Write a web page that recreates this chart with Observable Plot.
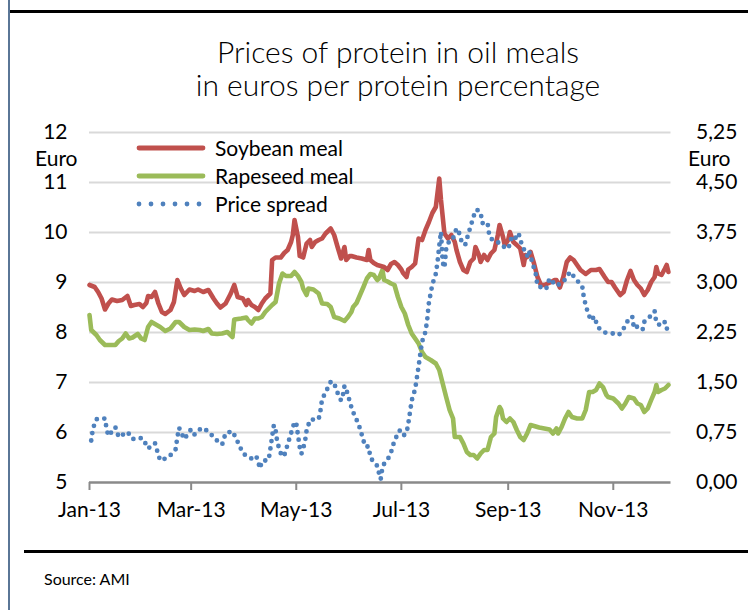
<!DOCTYPE html>
<html><head><meta charset="utf-8">
<script src="https://cdn.jsdelivr.net/npm/d3@7"></script>
<script src="https://cdn.jsdelivr.net/npm/@observablehq/plot@0.6"></script>
<style>
body{margin:0;background:#fff;}
#wrap{position:relative;width:748px;height:610px;overflow:hidden;font-family:Lato,"Open Sans",sans-serif;color:#000;background:#fff;}
#leftbar{position:absolute;left:8px;top:0;width:2px;height:610px;background:#5a7696;}
#topline{position:absolute;left:10px;top:10px;width:738px;height:3px;background:#000;}
#botline{position:absolute;left:24px;top:550px;width:724px;height:3px;background:#000;}
.title{position:absolute;left:10px;width:776px;text-align:center;font-size:30px;font-weight:300;line-height:1;white-space:nowrap;}
#source{position:absolute;left:44px;top:571px;font-size:16px;line-height:1;}
.unit{position:absolute;font-size:21px;line-height:1;}
#chart{position:absolute;left:0;top:0;}
#legend{position:absolute;left:0;top:0;pointer-events:none;}
</style></head><body>
<div id="wrap">
  <div id="leftbar"></div>
  <div id="topline"></div>
  <div class="title" style="top:36px">Prices of protein in oil meals</div>
  <div class="title" style="top:69px">in euros per protein percentage</div>
  <div id="chart"></div>
  <svg id="legend" width="748" height="610"></svg>
  <div class="unit" style="left:35px;top:147px">Euro</div>
  <div class="unit" style="left:688px;top:147px">Euro</div>
  <div id="botline"></div>
  <div id="source">Source: AMI</div>
</div>
<script>
// ---- data ----
const seriesNames = ["Soybean meal", "Rapeseed meal", "Price spread"];
const seriesColors = ["#C0504D", "#9BBB59", "#4F81BD"];

const soyDates = ["2013-01-01","2013-01-04","2013-01-06","2013-01-08","2013-01-10","2013-01-12","2013-01-14","2013-01-17","2013-01-20","2013-01-23","2013-01-25","2013-01-27","2013-01-30",
"2013-02-01","2013-02-03","2013-02-04","2013-02-06","2013-02-08","2013-02-10","2013-02-12","2013-02-14","2013-02-17","2013-02-19","2013-02-21","2013-02-23","2013-02-25","2013-02-28",
"2013-03-03","2013-03-05","2013-03-08","2013-03-11","2013-03-14","2013-03-16","2013-03-18","2013-03-21","2013-03-24","2013-03-26","2013-03-28","2013-03-31",
"2013-04-02","2013-04-03","2013-04-05","2013-04-07","2013-04-09","2013-04-11","2013-04-13","2013-04-16","2013-04-17","2013-04-19","2013-04-22","2013-04-24","2013-04-26","2013-04-28","2013-04-29","2013-04-30",
"2013-05-02","2013-05-03","2013-05-05","2013-05-07","2013-05-09","2013-05-10","2013-05-12","2013-05-14","2013-05-16","2013-05-18","2013-05-21","2013-05-23","2013-05-25","2013-05-27","2013-05-29","2013-05-30",
"2013-06-01","2013-06-02","2013-06-05","2013-06-08","2013-06-11","2013-06-12","2013-06-13","2013-06-15","2013-06-17","2013-06-19","2013-06-21","2013-06-23","2013-06-25","2013-06-27","2013-06-29",
"2013-07-01","2013-07-02","2013-07-04","2013-07-05","2013-07-07","2013-07-09","2013-07-11","2013-07-13","2013-07-15","2013-07-17","2013-07-19","2013-07-21","2013-07-23","2013-07-24","2013-07-26","2013-07-28","2013-07-30",
"2013-08-01","2013-08-02","2013-08-04","2013-08-06","2013-08-08","2013-08-10","2013-08-12","2013-08-13","2013-08-15","2013-08-16","2013-08-18","2013-08-20","2013-08-22","2013-08-24","2013-08-26","2013-08-27","2013-08-29","2013-08-30",
"2013-09-01","2013-09-02","2013-09-04","2013-09-06","2013-09-08","2013-09-10","2013-09-11","2013-09-12","2013-09-14","2013-09-16","2013-09-18","2013-09-20","2013-09-22","2013-09-24","2013-09-26","2013-09-28","2013-09-29",
"2013-10-01","2013-10-03","2013-10-05","2013-10-07","2013-10-09","2013-10-11","2013-10-13","2013-10-16","2013-10-19","2013-10-22","2013-10-24","2013-10-27","2013-10-29","2013-10-31",
"2013-11-02","2013-11-05","2013-11-07","2013-11-09","2013-11-11","2013-11-13","2013-11-15","2013-11-17","2013-11-19","2013-11-21","2013-11-23","2013-11-25","2013-11-26","2013-11-27","2013-11-29",
"2013-12-01","2013-12-02","2013-12-03"];
const soyValues = [8.95,8.91,8.81,8.68,8.46,8.58,8.66,8.63,8.65,8.73,8.53,8.55,8.57,
8.51,8.59,8.73,8.71,8.81,8.58,8.41,8.37,8.45,8.61,9.05,8.88,8.75,8.86,
8.83,8.86,8.81,8.85,8.68,8.58,8.50,8.58,8.78,8.95,8.71,8.68,
8.55,8.65,8.55,8.51,8.45,8.58,8.68,8.78,9.45,9.50,9.50,9.59,9.65,9.81,9.95,10.25,
9.91,9.53,9.50,9.78,9.85,9.71,9.81,9.85,9.88,9.98,10.08,9.95,9.71,9.48,9.71,9.45,
9.53,9.53,9.50,9.48,9.45,9.65,9.45,9.39,9.35,9.33,9.31,9.25,9.37,9.41,9.35,
9.26,9.19,9.11,9.26,9.31,9.38,9.88,9.85,10.05,10.21,10.39,10.51,11.08,10.65,9.98,9.88,9.95,
9.81,9.65,9.41,9.25,9.21,9.41,9.48,9.71,9.55,9.41,9.55,9.45,9.58,9.65,9.95,10.15,9.91,9.75,
9.85,10.01,9.81,9.75,9.68,9.35,9.55,9.51,9.61,9.38,9.11,8.95,8.95,8.98,9.01,9.05,9.05,
8.90,9.11,9.41,9.50,9.45,9.35,9.25,9.17,9.25,9.25,9.27,9.11,9.01,9.01,
8.90,8.75,8.81,9.05,9.23,9.05,8.95,8.88,8.75,8.85,9.01,9.11,9.31,9.18,9.15,
9.28,9.35,9.21];

const rapeDates = ["2013-01-01","2013-01-02","2013-01-05","2013-01-07","2013-01-10","2013-01-13","2013-01-16","2013-01-18","2013-01-20","2013-01-22","2013-01-24","2013-01-26","2013-01-29","2013-01-31",
"2013-02-02","2013-02-04","2013-02-06","2013-02-08","2013-02-11","2013-02-14","2013-02-17","2013-02-20","2013-02-22","2013-02-25","2013-02-28",
"2013-03-03","2013-03-06","2013-03-08","2013-03-11","2013-03-13","2013-03-16","2013-03-19","2013-03-22","2013-03-25","2013-03-26","2013-03-30",
"2013-04-02","2013-04-03","2013-04-05","2013-04-07","2013-04-09","2013-04-11","2013-04-13","2013-04-15","2013-04-17","2013-04-19","2013-04-21","2013-04-23","2013-04-25","2013-04-28","2013-04-30",
"2013-05-02","2013-05-04","2013-05-05","2013-05-07","2013-05-08","2013-05-11","2013-05-14","2013-05-16","2013-05-19","2013-05-21","2013-05-23","2013-05-26","2013-05-29","2013-05-31",
"2013-06-02","2013-06-03","2013-06-05","2013-06-07","2013-06-09","2013-06-11","2013-06-13","2013-06-15","2013-06-17","2013-06-18","2013-06-20","2013-06-21","2013-06-23","2013-06-25","2013-06-27","2013-06-29",
"2013-07-01","2013-07-03","2013-07-05","2013-07-07","2013-07-09","2013-07-11","2013-07-13","2013-07-15","2013-07-18","2013-07-21","2013-07-23","2013-07-25","2013-07-27","2013-07-29","2013-07-31",
"2013-08-01","2013-08-04","2013-08-06","2013-08-08","2013-08-10","2013-08-12","2013-08-14","2013-08-16","2013-08-18","2013-08-20","2013-08-22","2013-08-24","2013-08-25","2013-08-27","2013-08-28","2013-08-29","2013-08-31",
"2013-09-02","2013-09-04","2013-09-06","2013-09-08","2013-09-10","2013-09-12","2013-09-14","2013-09-16","2013-09-19","2013-09-22","2013-09-25","2013-09-27","2013-09-29","2013-09-30",
"2013-10-02","2013-10-04","2013-10-06","2013-10-08","2013-10-11","2013-10-14","2013-10-16","2013-10-18","2013-10-20","2013-10-22","2013-10-24","2013-10-26","2013-10-28","2013-10-29",
"2013-11-01","2013-11-04","2013-11-06","2013-11-08","2013-11-10","2013-11-13","2013-11-15","2013-11-17","2013-11-19","2013-11-21","2013-11-23","2013-11-25","2013-11-26","2013-11-27","2013-11-29",
"2013-12-01","2013-12-03"];
const rapeValues = [8.35,8.05,7.95,7.85,7.75,7.75,7.75,7.83,7.88,7.98,7.88,7.90,7.97,7.88,
7.85,8.11,8.21,8.17,8.11,8.03,8.08,8.21,8.21,8.11,8.05,
8.06,8.05,8.03,8.07,7.98,7.97,7.98,8.01,7.91,8.26,8.28,
8.30,8.25,8.18,8.28,8.28,8.31,8.41,8.48,8.55,8.61,8.98,9.18,9.13,9.13,9.21,
9.13,9.01,8.88,8.75,8.88,8.86,8.78,8.58,8.57,8.51,8.31,8.28,8.23,8.31,
8.41,8.51,8.59,8.75,8.91,9.08,9.17,9.15,9.05,9.08,9.25,9.05,9.02,8.98,8.95,8.71,
8.51,8.38,8.15,7.98,7.88,7.78,7.61,7.51,7.45,7.38,7.25,6.98,6.71,6.45,6.28,
5.91,5.91,5.78,5.61,5.55,5.55,5.48,5.58,5.65,5.65,5.91,5.98,6.31,6.51,6.45,6.28,6.21,
6.28,6.21,6.05,5.91,5.85,5.98,6.15,6.13,6.10,6.08,6.06,5.98,6.08,5.98,
6.11,6.28,6.41,6.31,6.28,6.28,6.45,6.81,6.81,6.85,6.98,6.91,6.75,6.71,
6.68,6.58,6.48,6.58,6.71,6.68,6.58,6.55,6.41,6.48,6.65,6.81,6.95,6.81,6.85,
6.88,6.95];

const spreadDates = ["2013-01-02","2013-01-03","2013-01-05","2013-01-10","2013-01-11","2013-01-12","2013-01-16","2013-01-18","2013-01-23","2013-01-26","2013-01-29",
"2013-02-01","2013-02-04","2013-02-08","2013-02-09","2013-02-11","2013-02-16","2013-02-20","2013-02-21","2013-02-22","2013-02-25",
"2013-03-01","2013-03-03","2013-03-07","2013-03-11","2013-03-15","2013-03-19","2013-03-21","2013-03-25","2013-03-28","2013-03-31",
"2013-04-03","2013-04-07","2013-04-08","2013-04-10","2013-04-11","2013-04-15","2013-04-16","2013-04-17","2013-04-18","2013-04-19","2013-04-20","2013-04-22","2013-04-23","2013-04-24","2013-04-26","2013-04-28","2013-04-30",
"2013-05-01","2013-05-02","2013-05-03","2013-05-04","2013-05-06","2013-05-07","2013-05-09","2013-05-14","2013-05-15","2013-05-16","2013-05-18","2013-05-21","2013-05-23","2013-05-24","2013-05-27","2013-05-28","2013-05-29","2013-05-30",
"2013-06-02","2013-06-04","2013-06-06","2013-06-08","2013-06-10","2013-06-12","2013-06-13","2013-06-15","2013-06-17","2013-06-18","2013-06-19","2013-06-20","2013-06-21","2013-06-23","2013-06-25","2013-06-27","2013-06-30",
"2013-07-02","2013-07-04","2013-07-05","2013-07-06","2013-07-07","2013-07-09","2013-07-10","2013-07-11","2013-07-12","2013-07-13","2013-07-15","2013-07-16","2013-07-17","2013-07-19","2013-07-21","2013-07-22","2013-07-23","2013-07-24","2013-07-25","2013-07-26","2013-07-27","2013-07-29","2013-07-31",
"2013-08-02","2013-08-03","2013-08-05","2013-08-07","2013-08-09","2013-08-11","2013-08-13","2013-08-14","2013-08-16","2013-08-17","2013-08-20","2013-08-21","2013-08-22","2013-08-25","2013-08-27","2013-08-31",
"2013-09-02","2013-09-03","2013-09-05","2013-09-07","2013-09-09","2013-09-12","2013-09-13","2013-09-15","2013-09-17","2013-09-18","2013-09-23","2013-09-25","2013-09-29",
"2013-10-03","2013-10-07","2013-10-10","2013-10-14","2013-10-15","2013-10-17","2013-10-19","2013-10-21","2013-10-23","2013-10-27","2013-10-31",
"2013-11-04","2013-11-06","2013-11-09","2013-11-12","2013-11-13","2013-11-15","2013-11-18","2013-11-19","2013-11-21","2013-11-25","2013-11-26","2013-11-29",
"2013-12-01","2013-12-03"];
const spreadValues = [0.63,0.81,0.95,0.96,0.79,0.70,0.83,0.68,0.76,0.65,0.67,
0.66,0.51,0.59,0.50,0.33,0.38,0.50,0.68,0.82,0.65,
0.80,0.72,0.82,0.77,0.65,0.57,0.74,0.77,0.61,0.44,
0.38,0.34,0.38,0.21,0.32,0.34,0.51,0.69,0.86,0.79,0.60,0.44,0.45,0.40,0.57,0.74,0.91,
0.89,0.71,0.53,0.43,0.60,0.78,0.94,0.95,1.07,1.25,1.35,1.51,1.50,1.40,1.23,1.30,1.45,1.40,
1.13,0.99,0.89,0.72,0.54,0.54,0.38,0.30,0.25,0.14,0.05,0.22,0.28,0.34,0.45,0.63,0.78,
0.70,0.74,0.88,1.05,1.23,1.40,1.57,1.74,1.93,2.11,2.26,2.44,2.70,2.97,3.13,3.31,3.55,3.76,3.30,3.22,3.50,3.64,3.66,
3.81,3.79,3.61,3.56,3.74,3.91,4.08,4.09,4.05,3.89,3.90,3.71,3.66,3.60,3.60,3.50,
3.56,3.69,3.66,3.74,3.56,3.40,3.48,3.30,3.13,2.95,2.90,3.06,2.95,
3.01,3.16,3.06,2.94,2.76,2.57,2.43,2.49,2.33,2.25,2.24,
2.21,2.26,2.41,2.49,2.31,2.34,2.29,2.41,2.45,2.57,2.39,2.35,
2.41,2.23];

// axes
const leftTicks = [5, 6, 7, 8, 9, 10, 11, 12];
const rightTickLabels = ["0,00", "0,75", "1,50", "2,25", "3,00", "3,75", "4,50", "5,25"];
const monthTicks = ["2013-01-01", "2013-03-01", "2013-05-01", "2013-07-01", "2013-09-01", "2013-11-01"];
const monthLabels = ["Jan-13", "Mar-13", "May-13", "Jul-13", "Sep-13", "Nov-13"];
const xStart = "2013-01-01", xEnd = "2013-12-04T12:00:00Z";

// ---- build ----
const parse = s => new Date(s.length === 10 ? s + "T00:00:00Z" : s);
const soy = soyDates.map((d, i) => ({date: parse(d), v: soyValues[i]}));
const rape = rapeDates.map((d, i) => ({date: parse(d), v: rapeValues[i]}));
// right axis: 0..5.25 maps onto left 5..12
const spread = spreadDates.map((d, i) => ({date: parse(d), v: 5 + spreadValues[i] / 0.75}));
const mTicks = monthTicks.map(parse);
const labelFor = d => monthLabels[mTicks.findIndex(t => +t === +d)];

const chart = Plot.plot({
  width: 748, height: 530,
  marginTop: 132, marginBottom: 48, marginLeft: 89, marginRight: 77.5,
  style: {fontFamily: "Lato, 'Open Sans', sans-serif", fontSize: "21px", color: "#000", background: "transparent", overflow: "visible"},
  x: {type: "utc", domain: [parse(xStart), parse(xEnd)]},
  y: {domain: [5, 12]},
  marks: [
    Plot.ruleY(leftTicks.filter(t => t > 5), {stroke: "#d9d9d9", strokeWidth: 2}),
    Plot.ruleY([5], {stroke: "#8a8a8a", strokeWidth: 2.5}),
    Plot.axisY(leftTicks, {anchor: "left", label: null, tickSize: 0, tickPadding: 22, fontSize: 21, tickFormat: d => String(d)}),
    Plot.axisY(leftTicks, {anchor: "right", label: null, tickSize: 0, tickPadding: 25, fontSize: 21, tickFormat: d => rightTickLabels[leftTicks.indexOf(d)]}),
    Plot.axisX(mTicks, {label: null, tickSize: 8, tickPadding: 12, fontSize: 21, stroke: "#8a8a8a", strokeWidth: 2, fill: "#000", tickFormat: labelFor}),
    Plot.line(rape, {x: "date", y: "v", stroke: seriesColors[1], strokeWidth: 4.6, strokeLinejoin: "round", strokeLinecap: "round"}),
    Plot.line(soy, {x: "date", y: "v", stroke: seriesColors[0], strokeWidth: 4.6, strokeLinejoin: "round", strokeLinecap: "round"}),
    Plot.line(spread, {x: "date", y: "v", stroke: seriesColors[2], strokeWidth: 4.8, strokeLinecap: "round", strokeDasharray: "0,7.5"})
  ]
});
document.getElementById("chart").appendChild(chart);

// ---- legend ----
const lg = d3.select("#legend");
const rowsY = [148, 176, 204];
seriesNames.forEach((name, i) => {
  const y = rowsY[i];
  const ln = lg.append("line").attr("x1", 139).attr("x2", i === 2 ? 200 : 203).attr("y1", y).attr("y2", y)
    .attr("stroke", seriesColors[i]).attr("stroke-width", 4.8).attr("stroke-linecap", "round");
  if (i === 2) ln.attr("stroke-dasharray", "0,12");
  lg.append("text").attr("x", 215).attr("y", y + 8).attr("font-family", "Lato, 'Open Sans', sans-serif")
    .attr("font-size", 21).attr("fill", "#000").text(name);
});
</script>
</body></html>
